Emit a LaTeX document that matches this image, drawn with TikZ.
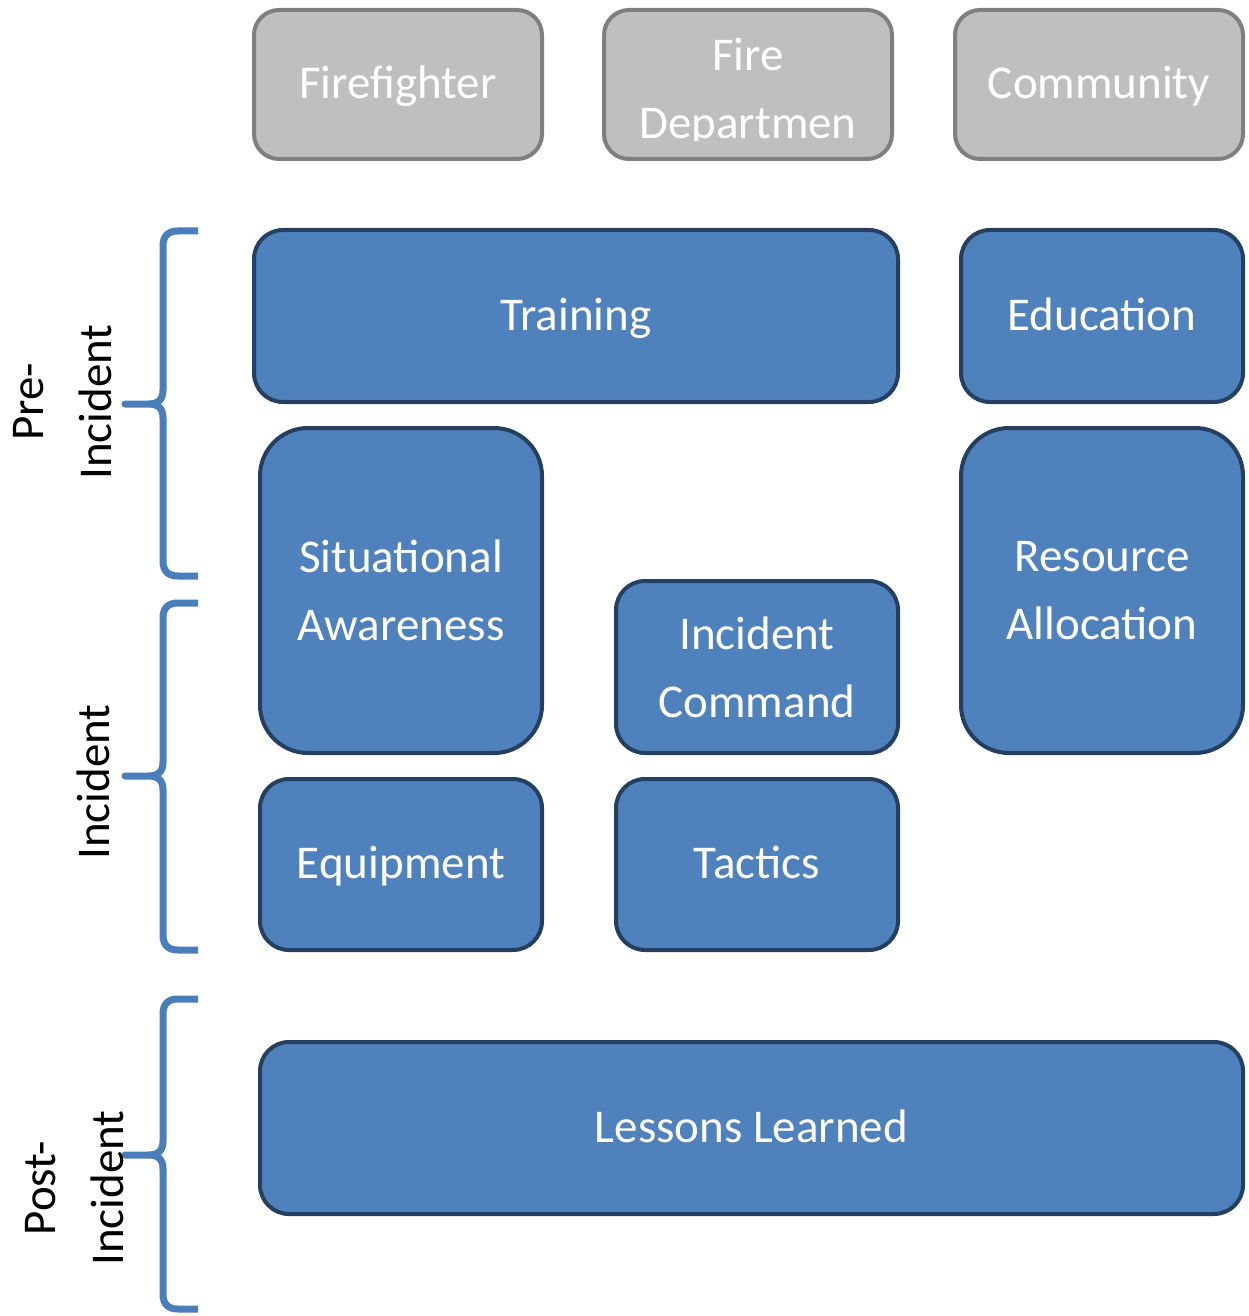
\documentclass[tikz,border=0pt]{standalone}
\usepackage{fontspec}
\setmainfont{Carlito}
\definecolor{boxblue}{HTML}{4F81BD}
\definecolor{boxedge}{HTML}{243F60}
\definecolor{bracecol}{HTML}{4A7EBB}
\definecolor{greyfill}{HTML}{BFBFBF}
\definecolor{greyedge}{HTML}{7F7F7F}
\tikzset{
  topic/.style={draw=boxedge, fill=boxblue, line width=2pt, text=white,
    rounded corners=14.5pt, align=center, inner sep=0pt,
    font=\fontsize{23.5pt}{34pt}\selectfont},
  tallTopic/.style={topic, rounded corners=24pt},
  oneline/.style={text height=17.5pt, text depth=3.5pt},
  actor/.style={draw=greyedge, fill=greyfill, line width=2pt, text=white,
    rounded corners=12.5pt, align=center, inner sep=0pt,
    minimum width=144pt, minimum height=74.5pt,
    font=\fontsize{23.5pt}{34pt}\selectfont},
  phase/.style={rotate=90, align=center, inner sep=0pt,
    font=\fontsize{23.5pt}{34pt}\selectfont},
  phasebrace/.style={draw=bracecol, line width=3.5pt, line join=round, line cap=butt}
}
\begin{document}
\begin{tikzpicture}[x=0.5pt,y=-0.5pt]
\useasboundingbox (0,0) rectangle (1248,1316);
% stakeholders
\node[actor, oneline] (ff) at (398,84.5) {Firefighter};
\node[actor] (fd) at (748,84.5) {};
\begin{scope}
\clip (604,10) rectangle (892,141);
\node[align=center, text=white, inner sep=0pt, font=\fontsize{23.5pt}{34pt}\selectfont] (fdtext) at (748,92) {Fire\\Departmen};
\end{scope}
\node[actor, oneline] (comm) at (1099,84.5) {Community};
% topics
\node[topic, oneline, minimum width=322pt, minimum height=86pt] (train) at (576,316) {Training};
\node[topic, oneline, minimum width=141pt, minimum height=86pt] (edu) at (1102,316) {Education};
\node[tallTopic, minimum width=141pt, minimum height=162.5pt] (sa) at (401,590.5) {Situational\\Awareness};
\node[topic, minimum width=141pt, minimum height=86pt] (ic) at (757,667) {Incident\\Command};
\node[tallTopic, minimum width=141pt, minimum height=162.5pt] (ra) at (1102,590.5) {Resource\\Allocation};
\node[topic, oneline, minimum width=141pt, minimum height=85.5pt] (equip) at (401,864.5) {Equipment};
\node[topic, oneline, minimum width=141pt, minimum height=85.5pt] (tact) at (757,864.5) {Tactics};
\node[topic, oneline, minimum width=491.5pt, minimum height=86pt] (lessons) at (751.5,1128) {Lessons Learned};
% phases
\foreach \t/\m/\b in {231/404/576, 603/776/950, 999/1155/1309}
  \draw[phasebrace] (198,\t) -- (178,\t) .. controls (168,\t) and (163,\t+5) .. (163,\t+15)
    -- (163,\m-14) .. controls (163,\m-4) and (158,\m) .. (148,\m) -- (125,\m) -- (148,\m)
    .. controls (158,\m) and (163,\m+4) .. (163,\m+14) -- (163,\b-15)
    .. controls (163,\b-5) and (168,\b) .. (178,\b) -- (198,\b);
\node[phase] (pre) at (63,402) {Pre-\\Incident};
\node[phase] (inc) at (93,782) {Incident};
\node[phase] (post) at (75,1188) {Post-\\Incident};
\end{tikzpicture}
\end{document}
